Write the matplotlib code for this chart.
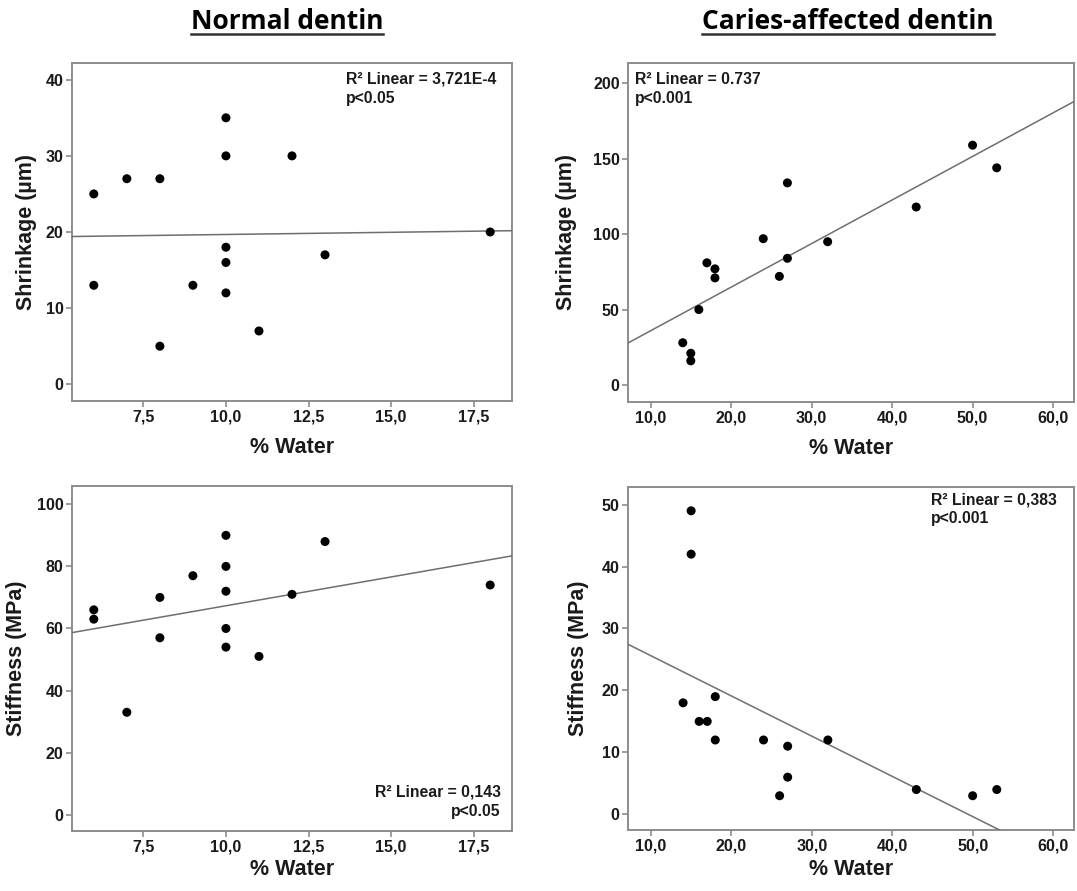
#!/usr/bin/env python3
"""Shrinkage / stiffness vs % water, normal vs caries-affected dentin."""
import matplotlib
matplotlib.use('Agg')
import matplotlib.pyplot as plt
from matplotlib.lines import Line2D
import numpy as np

# --- Style ---
plt.rcParams.update({
    'font.family': ['Liberation Sans', 'DejaVu Sans'],
    'font.weight': 'bold',
    'axes.labelweight': 'bold',
    'figure.facecolor': 'white',
    'axes.facecolor': 'white',
})

SPINE = '#8c8c8c'
FIT = '#6e6e6e'
TXT = '#1a1a1a'

# --- Data ---
normal_water = [6, 6, 7, 8, 8, 9, 10, 10, 10, 10, 10, 11, 12, 13, 18]
normal_shrinkage = [25, 13, 27, 27, 5, 13, 35, 30, 18, 16, 12, 7, 30, 17, 20]
normal_stiffness = [66, 63, 33, 70, 57, 77, 90, 80, 72, 60, 54, 51, 71, 88, 74]

caries_water = [14, 15, 15, 16, 17, 18, 18, 24, 26, 27, 27, 32, 43, 50, 53]
caries_shrinkage = [28, 21, 16, 50, 81, 77, 71, 97, 72, 134, 84, 95, 118, 159, 144]
caries_stiffness = [18, 49, 42, 15, 15, 19, 12, 12, 3, 11, 6, 12, 4, 3, 4]

titles = ['Normal dentin', 'Caries-affected dentin']
ann_texts = [
    'R² Linear = 3,721E-4\np<0.05',
    'R² Linear = 0.737\np<0.001',
    'R² Linear = 0,143\np<0.05',
    'R² Linear = 0,383\np<0.001',
]

W, H = 1077, 891
fig = plt.figure(figsize=(W / 100, H / 100), dpi=100)


def px_rect(x0, x1, y0, y1):
    return [x0 / W, 1 - y1 / H, (x1 - x0) / W, (y1 - y0) / H]


panels = [
    # rect, x, y, xlim, ylim, xticks, yticks, ylabel, ylabel_x, xlabel_y, ann pos
    (px_rect(72, 512, 63, 401), normal_water, normal_shrinkage,
     (5.34, 18.66), (-2.2, 42.2), np.arange(7.5, 18, 2.5), np.arange(0, 41, 10),
     'Shrinkage (µm)', -0.103, -0.139, (0.622, 0.975, 'left', 'top')),
    (px_rect(628, 1074, 63.3, 401.7), caries_water, caries_shrinkage,
     (7.2, 62.6), (-11.1, 213.3), np.arange(10, 61, 10), np.arange(0, 201, 50),
     'Shrinkage (µm)', -0.138, -0.139, (0.016, 0.975, 'left', 'top')),
    (px_rect(72, 512, 486, 830.7), normal_water, normal_stiffness,
     (5.34, 18.66), (-5.15, 105.9), np.arange(7.5, 18, 2.5), np.arange(0, 101, 20),
     'Stiffness (MPa)', -0.126, -0.114, (0.975, 0.035, 'right', 'bottom')),
    (px_rect(628, 1074, 487, 830.3), caries_water, caries_stiffness,
     (7.15, 62.6), (-2.58, 52.84), np.arange(10, 61, 10), np.arange(0, 51, 10),
     'Stiffness (MPa)', -0.11, -0.114, (0.68, 0.985, 'left', 'top')),
]

for i, (rect, xs, ys, xlim, ylim, xt, yt, ylab, ylx, xly, ann) in enumerate(panels):
    ax = fig.add_axes(rect)
    ax.scatter(xs, ys, s=42, color='black', edgecolors='none', zorder=4)

    # linear fit
    slope, icpt = np.polyfit(xs, ys, 1)
    fx = np.array(xlim)
    ax.plot(fx, icpt + slope * fx, color=FIT, linewidth=1.1, zorder=3)

    ax.set_xlim(*xlim)
    ax.set_ylim(*ylim)
    ax.set_xticks(xt)
    ax.set_xticklabels([f'{v:.1f}'.replace('.', ',') for v in xt])
    ax.set_yticks(yt)
    ax.set_yticklabels([f'{int(v)}' for v in yt])
    ax.tick_params(direction='out', length=4, width=1.2, color=SPINE,
                   labelsize=11.5, labelcolor=TXT, pad=2)
    for sp in ax.spines.values():
        sp.set_color(SPINE)
        sp.set_linewidth(1.4)

    ax.set_xlabel('% Water', fontsize=15.5, color=TXT)
    ax.set_ylabel(ylab, fontsize=15.5, color=TXT)
    ax.xaxis.set_label_coords(0.5, xly)
    ax.xaxis.label.set_va('center')
    ax.yaxis.set_label_coords(ylx, 0.5)
    ax.yaxis.label.set_va('center')

    ax_x, ax_y, ha, va = ann
    ax.text(ax_x, ax_y, ann_texts[i], transform=ax.transAxes, ha=ha, va=va,
            multialignment=ha, fontsize=11.3, color=TXT, linespacing=1.35)

# --- Titles with underline ---
renderer = fig.canvas.get_renderer()
for title, cx in zip(titles, [287, 848]):
    t = fig.text(cx / W, 1 - 29.3 / H, title, ha='center', va='baseline',
                 fontsize=19, fontweight='bold', family=['Open Sans', 'DejaVu Sans'],
                 color='black')
    bb = t.get_window_extent(renderer)
    yl = 1 - 34.3 / H
    fig.add_artist(Line2D([bb.x0 / W, bb.x1 / W], [yl, yl], color='#333333',
                          linewidth=1.8, transform=fig.transFigure))

fig.savefig('out.png', dpi=100)
plt.close()
